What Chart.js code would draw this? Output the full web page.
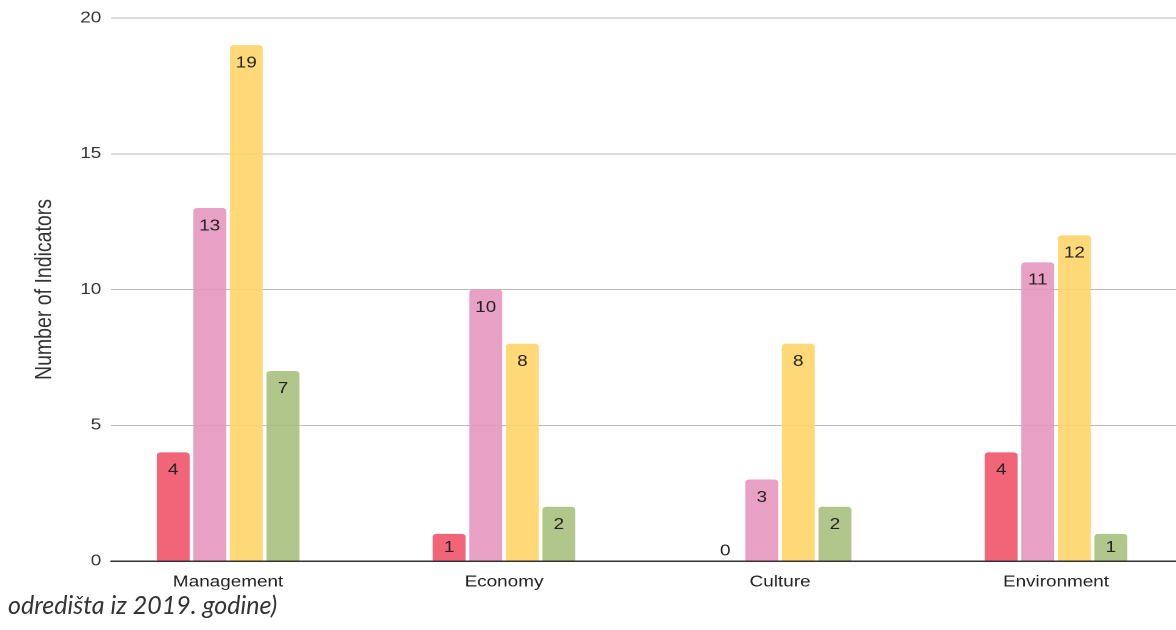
<!DOCTYPE html>
<html>
<head>
<meta charset="utf-8">
<script src="https://cdn.jsdelivr.net/npm/chart.js@4"></script>
<style>
  body{margin:0;background:#fff;width:1176px;height:630px;overflow:hidden;position:relative}
  /* slika je u originalu razvučena vodoravno */
  #wrap{position:absolute;left:0;top:0;width:964px;height:600px;transform:scaleX(1.22);transform-origin:0 0}
  #caption{position:absolute;left:8px;top:589px;font-family:Lato,"Open Sans",sans-serif;font-style:italic;font-size:25px;color:#333;white-space:nowrap}
</style>
</head>
<body>
<div id="wrap"><canvas id="chart" width="964" height="600"></canvas></div>
<div id="caption">odredišta iz 2019. godine)</div>
<script>
// kategorije i vrijednosti
const categories = ["Management", "Economy", "Culture", "Environment"]
const seriesA = [4, 1, 0, 4]
const seriesB = [13, 10, 3, 11]
const seriesC = [19, 8, 8, 12]
const seriesD = [7, 2, 2, 1]
const yTicks = [0, 5, 10, 15, 20]

const colors = ["rgba(241,88,110,0.92)", "rgba(229,150,190,0.9)", "rgba(255,212,105,0.9)", "rgba(168,192,125,0.9)"]
const fontFamily = "'Liberation Sans', Arial, sans-serif"

let toPoints = arr => arr.map((v, i) => ({x: i, y: v}))

//nhãn trên cột
const barLabels = {
  id: "barLabels",
  afterDatasetsDraw(chart){
    let ctx = chart.ctx
    ctx.save()
    ctx.font = "15.5px " + fontFamily
    ctx.fillStyle = "#222"
    ctx.textAlign = "center"
    ctx.textBaseline = "middle"
    chart.data.datasets.forEach((ds, di) => {
      chart.getDatasetMeta(di).data.forEach((bar, i) => {
        let v = ds.data[i].y
        let y = v === 0 ? bar.base - 10 : bar.y + (v < 2 ? 14 : 18)
        ctx.fillText(String(v), bar.x, y)
      })
    })
    ctx.restore()
  }
}

let datasets = [seriesA, seriesB, seriesC, seriesD].map((s, k) => ({
  data: toPoints(s),
  backgroundColor: colors[k],
  borderWidth: 0,
  borderRadius: {topLeft: 3, topRight: 3},
  borderSkipped: "bottom",
  categoryPercentage: 0.53,
  barPercentage: 0.9
}))

new Chart(document.getElementById("chart"), {
  type: "bar",
  data: {datasets: datasets},
  plugins: [barLabels],
  options: {
    responsive: false,
    animation: false,
    devicePixelRatio: 2,
    layout: {padding: {top: 18, right: 0, left: 0, bottom: 0}},
    plugins: {legend: {display: false}, tooltip: {enabled: false}},
    scales: {
      x: {
        type: "linear",
        offset: false,
        min: -0.424,
        max: 3.435,
        afterBuildTicks: scale => { scale.ticks = categories.map((c, i) => ({value: i})) },
        afterFit: scale => { scale.height = 39 },
        ticks: {
          callback: v => categories[v],
          color: "#222",
          padding: 12,
          autoSkip: false,
          maxRotation: 0,
          font: {family: fontFamily, size: 15.5}
        },
        grid: {display: false, drawTicks: false, offset: false},
        border: {display: true, color: "#333", width: 1.5}
      },
      y: {
        min: 0,
        max: 20,
        afterBuildTicks: scale => { scale.ticks = yTicks.map(v => ({value: v})) },
        afterFit: scale => { scale.width = 91 },
        ticks: {
          color: "#333",
          padding: 8,
          font: {family: fontFamily, size: 15.5}
        },
        grid: {color: "#bbb", lineWidth: 1, drawTicks: false},
        border: {display: false},
        title: {
          display: true,
          text: "Number of Indicators",
          color: "#333",
          padding: {top: 25, bottom: 0},
          font: {family: fontFamily, size: 19.5}
        }
      }
    }
  }
})
</script>
</body>
</html>
